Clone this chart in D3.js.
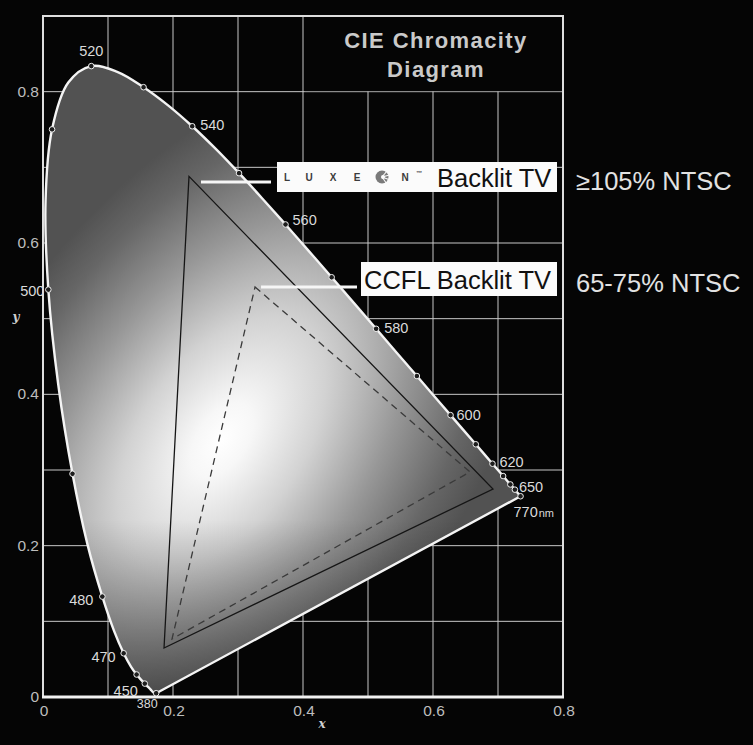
<!DOCTYPE html>
<html>
<head>
<meta charset="utf-8">
<script src="https://cdn.jsdelivr.net/npm/d3@7"></script>
<style>
  html, body { margin: 0; background: #050505; }
  svg { display: block; font-family: "Liberation Sans", Arial, sans-serif; }
</style>
</head>
<body>
<div id="chart"></div>
<script>
// CIE 1931 2-degree spectral locus
var wavelengths = [380, 385, 390, 395, 400, 405, 410, 415, 420, 425, 430, 435, 440, 445, 450, 455,
  460, 465, 470, 475, 480, 485, 490, 495, 500, 505, 510, 515, 520, 525, 530, 535, 540, 545, 550,
  555, 560, 565, 570, 575, 580, 585, 590, 595, 600, 605, 610, 615, 620, 625, 630, 635, 640, 645,
  650, 655, 660, 665, 670, 680, 690, 700, 770];
var locusX = [0.1741, 0.1740, 0.1738, 0.1736, 0.1733, 0.1730, 0.1726, 0.1721, 0.1714, 0.1703,
  0.1689, 0.1669, 0.1644, 0.1611, 0.1566, 0.1510, 0.1440, 0.1355, 0.1241, 0.1096, 0.0913, 0.0687,
  0.0454, 0.0235, 0.0082, 0.0039, 0.0139, 0.0389, 0.0743, 0.1142, 0.1547, 0.1929, 0.2296, 0.2658,
  0.3016, 0.3373, 0.3731, 0.4087, 0.4441, 0.4788, 0.5125, 0.5448, 0.5752, 0.6029, 0.6270, 0.6482,
  0.6658, 0.6801, 0.6915, 0.7006, 0.7079, 0.7140, 0.7190, 0.7230, 0.7260, 0.7283, 0.7300, 0.7311,
  0.7320, 0.7334, 0.7344, 0.7347, 0.7347];
var locusY = [0.0050, 0.0050, 0.0049, 0.0049, 0.0048, 0.0048, 0.0048, 0.0048, 0.0051, 0.0058,
  0.0069, 0.0086, 0.0109, 0.0138, 0.0177, 0.0227, 0.0297, 0.0399, 0.0578, 0.0868, 0.1327, 0.2007,
  0.2950, 0.4127, 0.5384, 0.6548, 0.7502, 0.8120, 0.8338, 0.8262, 0.8059, 0.7816, 0.7543, 0.7243,
  0.6923, 0.6589, 0.6245, 0.5896, 0.5547, 0.5202, 0.4866, 0.4544, 0.4242, 0.3965, 0.3725, 0.3514,
  0.3340, 0.3197, 0.3083, 0.2993, 0.2920, 0.2859, 0.2809, 0.2770, 0.2740, 0.2717, 0.2700, 0.2689,
  0.2680, 0.2666, 0.2656, 0.2653, 0.2653];

var dotWavelengths = [380, 450, 460, 470, 480, 490, 500, 510, 520, 530, 540, 550, 560, 570, 580,
  590, 600, 610, 620, 630, 640, 650, 770];
var labelWavelengths = [380, 450, 470, 480, 500, 520, 540, 560, 580, 600, 620, 650, 770];

// colour gamut triangles (x, y)
var luxeonX = [0.2246, 0.6923, 0.1862];
var luxeonY = [0.6880, 0.2749, 0.0648];
var ccflX = [0.3262, 0.6569, 0.1985];
var ccflY = [0.5418, 0.2974, 0.0767];

var xTicks = [0, 0.2, 0.4, 0.6, 0.8];
var xTickLabels = ["0", "0.2", "0.4", "0.6", "0.8"];
var yTicks = [0, 0.2, 0.4, 0.6, 0.8];
var yTickLabels = ["0", "0.2", "0.4", "0.6", "0.8"];
var gridX = [0.1, 0.2, 0.3, 0.4, 0.5, 0.6, 0.7];
var gridY = [0.1, 0.2, 0.3, 0.4, 0.5, 0.6, 0.7, 0.8];

var titleLines = ["CIE Chromacity", "Diagram"];
var seriesNames = ["Backlit TV", "CCFL Backlit TV"];
var seriesNotes = ["\u2265105% NTSC", "65-75% NTSC"];

var width = 753;
var height = 745;

var svg = d3.select("#chart").append("svg")
  .attr("width", width)
  .attr("height", height);

svg.append("rect").attr("width", width).attr("height", height).attr("fill", "#050505");

var xScale = d3.scaleLinear().domain([0, 0.8]).range([43, 563]);
var yScale = d3.scaleLinear().domain([0, 0.9]).range([697, 16]);

var locus = wavelengths.map(function(w, i) {
  return { wl: w, x: locusX[i], y: locusY[i] };
});
function byWl(w) {
  return locus.filter(function(d) { return d.wl === w; })[0];
}

var defs = svg.append("defs");
var glow = defs.append("radialGradient")
  .attr("id", "glow")
  .attr("gradientUnits", "userSpaceOnUse")
  .attr("cx", 0).attr("cy", 0).attr("r", 1)
  .attr("gradientTransform", "translate(222,440) rotate(-55) scale(420,245)");
[[0, "#ffffff"], [0.1, "#f7f7f7"], [0.33, "#d2d2d2"], [0.6, "#979797"], [0.85, "#666666"], [1, "#525252"]]
  .forEach(function(s) {
    glow.append("stop").attr("offset", s[0]).attr("stop-color", s[1]);
  });
var shade = defs.append("linearGradient")
  .attr("id", "shade")
  .attr("gradientUnits", "userSpaceOnUse")
  .attr("x1", 0).attr("y1", 520).attr("x2", 0).attr("y2", 700);
shade.append("stop").attr("offset", 0).attr("stop-color", "#000").attr("stop-opacity", 0);
shade.append("stop").attr("offset", 1).attr("stop-color", "#000").attr("stop-opacity", 0.45);

// grid
var grid = svg.append("g").attr("stroke", "#c8c8c8").attr("stroke-width", 1);
grid.selectAll("line.gx").data(gridX).enter().append("line")
  .attr("x1", function(d) { return xScale(d); })
  .attr("x2", function(d) { return xScale(d); })
  .attr("y1", yScale(0.9)).attr("y2", yScale(0));
grid.selectAll("line.gy").data(gridY).enter().append("line")
  .attr("y1", function(d) { return yScale(d); })
  .attr("y2", function(d) { return yScale(d); })
  .attr("x1", xScale(0)).attr("x2", xScale(0.8));

// title block covers the grid
svg.append("rect")
  .attr("x", xScale(0.4) + 1.5).attr("y", yScale(0.9) + 1)
  .attr("width", xScale(0.8) - xScale(0.4) - 2.5)
  .attr("height", yScale(0.8) - yScale(0.9) - 1.5)
  .attr("fill", "#050505");

svg.append("g").selectAll("text").data(titleLines).enter().append("text")
  .attr("x", 436)
  .attr("y", function(d, i) { return 48 + i * 29; })
  .attr("text-anchor", "middle")
  .attr("font-size", 22)
  .attr("font-weight", "bold")
  .attr("letter-spacing", 1.4)
  .attr("fill", "#cacaca")
  .text(function(d) { return d; });

// frame
svg.append("rect")
  .attr("x", xScale(0)).attr("y", yScale(0.9))
  .attr("width", xScale(0.8) - xScale(0))
  .attr("height", yScale(0) - yScale(0.9))
  .attr("fill", "none")
  .attr("stroke", "#dedede")
  .attr("stroke-width", 2);
svg.append("line")
  .attr("x1", xScale(0) - 1).attr("x2", xScale(0.8) + 1)
  .attr("y1", yScale(0)).attr("y2", yScale(0))
  .attr("stroke", "#f2f2f2").attr("stroke-width", 3);

// horseshoe
var line = d3.line()
  .x(function(d) { return xScale(d.x); })
  .y(function(d) { return yScale(d.y); })
  .curve(d3.curveCatmullRom);
var locusPath = line(locus) + "Z";

defs.append("clipPath").attr("id", "locusClip").append("path").attr("d", locusPath);

svg.append("path").attr("d", locusPath).attr("fill", "url(#glow)");
svg.append("rect")
  .attr("x", 0).attr("y", 0).attr("width", width).attr("height", height)
  .attr("clip-path", "url(#locusClip)")
  .attr("fill", "url(#shade)");

svg.append("path").attr("d", locusPath)
  .attr("fill", "none")
  .attr("stroke", "#f4f4f4")
  .attr("stroke-width", 2.4)
  .attr("stroke-linejoin", "round");

// triangles
var tri = d3.line()
  .x(function(d) { return xScale(d[0]); })
  .y(function(d) { return yScale(d[1]); });
svg.append("path")
  .attr("d", tri(d3.zip(luxeonX, luxeonY)) + "Z")
  .attr("fill", "none")
  .attr("stroke", "#151515")
  .attr("stroke-width", 1.3);
svg.append("path")
  .attr("d", tri(d3.zip(ccflX, ccflY)) + "Z")
  .attr("fill", "none")
  .attr("stroke", "#3a3a3a")
  .attr("stroke-width", 1.3)
  .attr("stroke-dasharray", "7,5");

// wavelength dots
svg.append("g").selectAll("circle")
  .data(dotWavelengths.map(byWl)).enter().append("circle")
  .attr("cx", function(d) { return xScale(d.x); })
  .attr("cy", function(d) { return yScale(d.y); })
  .attr("r", 2.8)
  .attr("fill", "#1e1e1e")
  .attr("stroke", "#f0f0f0")
  .attr("stroke-width", 1);

// wavelength labels: [dx, dy, anchor, size]
var labelPlace = {
  380: [-9, 15, "middle", 12.5], 450: [-7, 12, "end", 14.5], 470: [-8, 9, "end", 14.5],
  480: [-9, 8, "end", 14.5], 500: [-4, 6, "end", 14.5], 520: [0, -10, "middle", 14.5],
  540: [8, 4, "start", 14.5], 560: [7, 1, "start", 14.5], 580: [8, 4, "start", 14.5],
  600: [6, 5, "start", 14.5], 620: [7, 3, "start", 14.5], 650: [4, 2, "start", 14.5],
  770: [-7, 21, "start", 14.5]
};
var wlText = svg.append("g").attr("fill", "#dadada");
labelWavelengths.forEach(function(w) {
  var d = byWl(w), p = labelPlace[w];
  var t = wlText.append("text")
    .attr("x", xScale(d.x) + p[0])
    .attr("y", yScale(d.y) + p[1])
    .attr("text-anchor", p[2])
    .attr("font-size", p[3])
    .text(w);
  if (w === 770) {
    t.append("tspan").attr("font-size", 11).attr("dx", 1).text("nm");
  }
});

// axis tick labels
svg.append("g").selectAll("text").data(xTicks).enter().append("text")
  .attr("x", function(d) { return xScale(d) + 1; })
  .attr("y", 716)
  .attr("text-anchor", "middle")
  .attr("font-size", 15.5)
  .attr("fill", "#bdbdbd")
  .text(function(d, i) { return xTickLabels[i]; });
svg.append("g").selectAll("text").data(yTicks).enter().append("text")
  .attr("x", 39)
  .attr("y", function(d) { return yScale(d) + 5; })
  .attr("text-anchor", "end")
  .attr("font-size", 15.5)
  .attr("fill", "#bdbdbd")
  .text(function(d, i) { return yTickLabels[i]; });
svg.append("text").attr("x", 322).attr("y", 728)
  .attr("text-anchor", "middle").attr("font-size", 12)
  .attr("font-style", "italic").attr("font-weight", "bold")
  .attr("font-family", "'DejaVu Serif', serif")
  .attr("fill", "#cfcfcf").text("x");
svg.append("text").attr("x", 16).attr("y", 321)
  .attr("text-anchor", "middle").attr("font-size", 12)
  .attr("font-style", "italic").attr("font-weight", "bold")
  .attr("font-family", "'DejaVu Serif', serif")
  .attr("fill", "#cfcfcf").text("y");

// leader lines from the triangle apexes to the labels
svg.append("line")
  .attr("x1", xScale(luxeonX[0]) + 12).attr("x2", 271)
  .attr("y1", 182).attr("y2", 182)
  .attr("stroke", "#f6f6f6").attr("stroke-width", 3);
svg.append("line")
  .attr("x1", xScale(ccflX[0]) + 6).attr("x2", 357)
  .attr("y1", 287).attr("y2", 287)
  .attr("stroke", "#f6f6f6").attr("stroke-width", 3);

// LUXEON label box
svg.append("rect").attr("x", 277).attr("y", 162).attr("width", 280).attr("height", 30)
  .attr("fill", "#fbfbfb");
var brand = svg.append("g").attr("fill", "#3c3c3c").attr("font-size", 10).attr("font-weight", "bold");
[["L", 287], ["U", 309], ["X", 333], ["E", 357], ["N", 405]].forEach(function(c) {
  brand.append("text").attr("x", c[1]).attr("y", 181).attr("text-anchor", "middle").text(c[0]);
});
brand.append("text").attr("x", 416).attr("y", 175).attr("font-size", 6).text("\u2122");
var logo = svg.append("g").attr("transform", "translate(382,177)");
logo.append("circle").attr("r", 6.5).attr("fill", "#7a7a7a");
[-50, -15, 20, 55].forEach(function(a) {
  logo.append("line")
    .attr("x1", 0).attr("y1", 0).attr("x2", 8).attr("y2", 0)
    .attr("transform", "rotate(" + a + ")")
    .attr("stroke", "#fbfbfb").attr("stroke-width", 1.1);
});
logo.append("circle").attr("r", 2).attr("cx", 1).attr("fill", "#fbfbfb");
svg.append("text").attr("x", 437).attr("y", 187)
  .attr("font-size", 25.5).attr("fill", "#111").text(seriesNames[0]);

// CCFL label box
svg.append("rect").attr("x", 361).attr("y", 262).attr("width", 196).attr("height", 34)
  .attr("fill", "#fbfbfb");
svg.append("text").attr("x", 364).attr("y", 289)
  .attr("font-size", 25.5).attr("fill", "#111").text(seriesNames[1]);

// NTSC notes
svg.append("g").selectAll("text").data(seriesNotes).enter().append("text")
  .attr("x", 576)
  .attr("y", function(d, i) { return i === 0 ? 190 : 292; })
  .attr("font-size", 25.5)
  .attr("fill", "#e2e2e2")
  .text(function(d) { return d; });
</script>
</body>
</html>
